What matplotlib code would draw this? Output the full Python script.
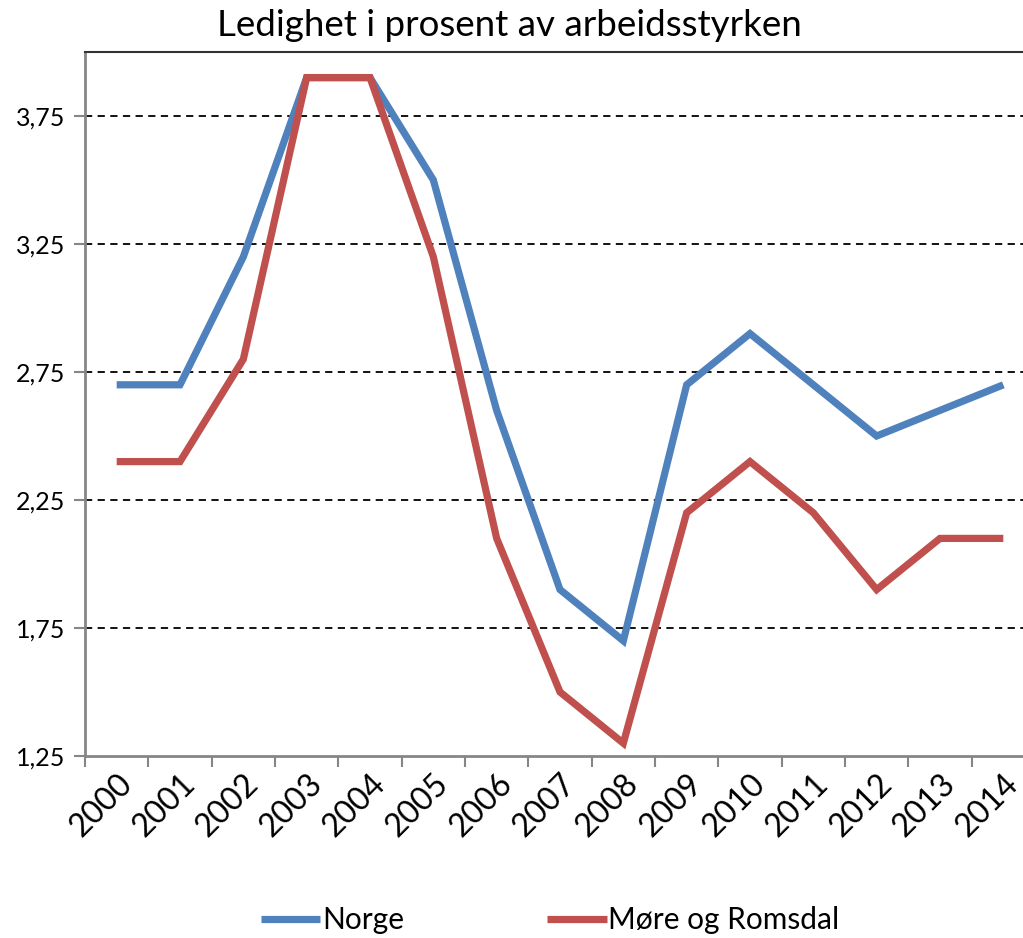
import matplotlib
matplotlib.use("Agg")
import matplotlib.pyplot as plt
import numpy as np

years = ["2000", "2001", "2002", "2003", "2004", "2005", "2006", "2007",
         "2008", "2009", "2010", "2011", "2012", "2013", "2014"]
norge = [2.7, 2.7, 3.2, 3.9, 3.9, 3.5, 2.6, 1.9, 1.7, 2.7, 2.9, 2.7, 2.5, 2.6, 2.7]
more = [2.4, 2.4, 2.8, 3.9, 3.9, 3.2, 2.1, 1.5, 1.3, 2.2, 2.4, 2.2, 1.9, 2.1, 2.1]
yticks = [1.25, 1.75, 2.25, 2.75, 3.25, 3.75]
ytick_labels = ["1,25", "1,75", "2,25", "2,75", "3,25", "3,75"]

plt.rcParams['font.family'] = ['Lato', 'DejaVu Sans']

fig = plt.figure(figsize=(10.23, 9.38), dpi=100)
ax = fig.add_axes([85/1023, 182/938, 950/1023, 704/938])

x = np.arange(len(years))
l1, = ax.plot(x, norge, color="#4F81BD", lw=5.2, solid_joinstyle='miter', solid_capstyle='butt', label="Norge")
l2, = ax.plot(x, more, color="#C0504D", lw=5.2, solid_joinstyle='miter', solid_capstyle='butt', label="Møre og Romsdal")

ax.set_xlim(-0.5, len(years) - 0.5)
ax.set_ylim(1.25, 4.0)
ax.set_yticks(yticks)
ax.set_yticklabels(ytick_labels, fontsize=18)
for yv in yticks[1:]:
    ax.axhline(yv, color="black", lw=1.3, ls=(0, (4, 3)), zorder=0)

ax.set_xticks(np.arange(len(years) + 1) - 0.5)
ax.set_xticklabels([])
ax.set_xticks(x, minor=True)
ax.set_xticklabels(years, minor=True, rotation=45, ha='right', va='top',
                   rotation_mode='anchor', fontsize=23)
ax.tick_params(axis='x', which='minor', length=0, pad=9)
ax.tick_params(axis='x', which='major', length=8, color="#868686", width=1.5)
ax.tick_params(axis='y', length=8, color="#868686", width=1.5, pad=6)

for s in ['left', 'bottom']:
    ax.spines[s].set_color("#868686")
    ax.spines[s].set_linewidth(2)
ax.spines['top'].set_color("#333333")
ax.spines['top'].set_linewidth(1.5)
ax.spines['right'].set_visible(False)

fig.text(509/1023, 1 - 26/938, "Ledighet i prosent av arbeidsstyrken", ha='center', va='center', fontsize=26.5)

fig.legend(handles=[l1, l2], loc='center', bbox_to_anchor=(550/1023, 1 - 920/938),
           ncol=2, frameon=False, fontsize=21.5, handlelength=2.0, handletextpad=0.05,
           columnspacing=4.8)

fig.savefig("out.png", dpi=100)
